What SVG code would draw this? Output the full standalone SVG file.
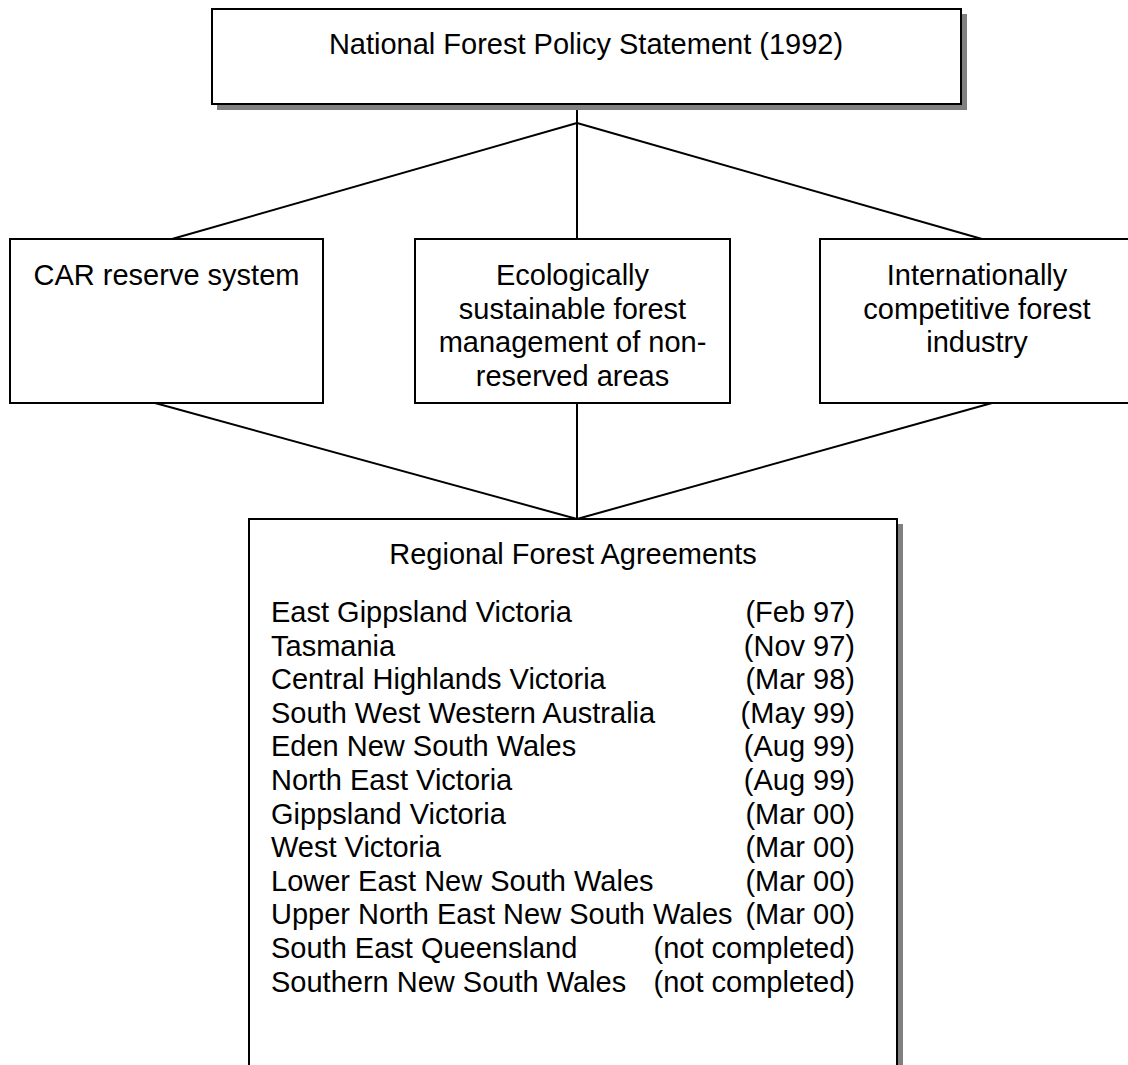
<svg xmlns="http://www.w3.org/2000/svg" width="1128" height="1065" viewBox="0 0 1128 1065">
<style>
.box{fill:#fff;stroke:#000;stroke-width:2}
.shadow{fill:#808080;stroke:none}
.t{font-family:"Liberation Sans",Arial,sans-serif;font-size:29px;fill:#000}
.c{text-anchor:middle}
.e{text-anchor:end}
.ln{stroke:#000;stroke-width:2;fill:none}
</style>
<rect width="1128" height="1065" fill="#fff"/>
<g id="connectors">
<line class="ln" x1="577" y1="105" x2="577" y2="239"/>
<line class="ln" x1="577" y1="123" x2="172" y2="239"/>
<line class="ln" x1="577" y1="123" x2="982" y2="239"/>
<line class="ln" x1="155" y1="403" x2="577" y2="519"/>
<line class="ln" x1="577" y1="403" x2="577" y2="519"/>
<line class="ln" x1="992" y1="403" x2="577" y2="519"/>
</g>
<g id="national">
<rect class="shadow" x="217" y="14" width="750" height="96"/>
<rect class="box" x="212" y="9" width="749" height="95"/>
<text class="t c" x="586" y="54">National Forest Policy Statement (1992)</text>
</g>
<g id="car">
<rect class="box" x="10" y="239" width="313" height="164"/>
<text class="t c" x="166.5" y="285">CAR reserve system</text>
</g>
<g id="esfm">
<rect class="box" x="415" y="239" width="315" height="164"/>
<text class="t c" x="572.5" y="285">Ecologically</text>
<text class="t c" x="572.5" y="318.5">sustainable forest</text>
<text class="t c" x="572.5" y="352">management of non-</text>
<text class="t c" x="572.5" y="385.5">reserved areas</text>
</g>
<g id="industry">
<rect class="box" x="820" y="239" width="314" height="164"/>
<text class="t c" x="977" y="285">Internationally</text>
<text class="t c" x="977" y="318.5">competitive forest</text>
<text class="t c" x="977" y="352">industry</text>
</g>
<g id="rfa">
<rect class="shadow" x="254" y="524" width="649" height="560"/>
<rect class="box" x="249" y="519" width="648" height="560"/>
<text class="t c" x="573" y="564">Regional Forest Agreements</text>
<g class="t">
<text x="271" y="622">East Gippsland Victoria</text>
<text x="271" y="655.6">Tasmania</text>
<text x="271" y="689.2">Central Highlands Victoria</text>
<text x="271" y="722.8">South West Western Australia</text>
<text x="271" y="756.4">Eden New South Wales</text>
<text x="271" y="790">North East Victoria</text>
<text x="271" y="823.6">Gippsland Victoria</text>
<text x="271" y="857.2">West Victoria</text>
<text x="271" y="890.8">Lower East New South Wales</text>
<text x="271" y="924.4">Upper North East New South Wales</text>
<text x="271" y="958">South East Queensland</text>
<text x="271" y="991.6">Southern New South Wales</text>
</g>
<g class="t e">
<text x="855" y="622">(Feb 97)</text>
<text x="855" y="655.6">(Nov 97)</text>
<text x="855" y="689.2">(Mar 98)</text>
<text x="855" y="722.8">(May 99)</text>
<text x="855" y="756.4">(Aug 99)</text>
<text x="855" y="790">(Aug 99)</text>
<text x="855" y="823.6">(Mar 00)</text>
<text x="855" y="857.2">(Mar 00)</text>
<text x="855" y="890.8">(Mar 00)</text>
<text x="855" y="924.4">(Mar 00)</text>
<text x="855" y="958">(not completed)</text>
<text x="855" y="991.6">(not completed)</text>
</g>
</g>
</svg>
